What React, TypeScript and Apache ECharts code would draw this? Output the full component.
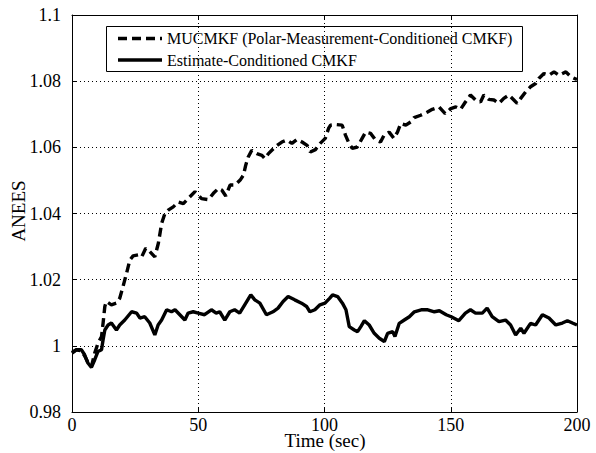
import React, { useEffect, useRef } from "react";
import * as echarts from "echarts";

const seriesNames = [
  "MUCMKF (Polar-Measurement-Conditioned CMKF)",
  "Estimate-Conditioned CMKF",
];
const xName = "Time (sec)";
const yName = "ANEES";

const xTicks = [0, 50, 100, 150, 200];
const yTicks = [0.98, 1, 1.02, 1.04, 1.06, 1.08, 1.1];

const dashT = [
  0, 1.7, 3.7, 5, 6.3, 7.7, 9, 10.3, 11.7, 12.3,
  13, 13.6, 15.6, 17.6, 18.9, 20.2, 21.6, 22.9, 24.2, 26.2,
  27.6, 29.2, 30.8, 32.8, 34.2, 35.5, 36.8, 38.1, 40.1, 42.1,
  44.1, 46, 48.7, 50, 51.3, 54, 56, 58, 59.3, 60.9,
  62.6, 64.6, 66.6, 67.9, 68.8, 69.8, 71.2, 73.2, 75.2, 76.4,
  77.8, 80.4, 83.1, 85.1, 87.1, 89.1, 91.1, 93.1, 94.4, 96.4,
  98.3, 100.3, 101.6, 102.4, 104.4, 107, 108.3, 109.7, 111, 113,
  114.9, 116.3, 118.3, 120.2, 122.2, 123.6, 125.6, 127.5, 128.9, 130.2,
  132.2, 134.2, 135.5, 138.1, 140.8, 142.7, 145.4, 147.8, 150, 152,
  153.9, 155.8, 157.8, 159.8, 161.8, 163.1, 165.1, 167.1, 169.1, 171,
  173, 175, 176.3, 177.7, 179.7, 181.6, 183.6, 184.9, 186.9, 188.9,
  190.9, 192.9, 195.6, 197.6, 200,
];
const dashV = [
  0.998, 0.9988, 0.9985, 0.997, 0.995, 0.9938, 0.9978, 1.0008, 1.0028, 1.0068,
  1.0119, 1.0134, 1.0124, 1.0129, 1.0144, 1.0179, 1.0219, 1.0259, 1.0272, 1.0275,
  1.0269, 1.0295, 1.0285, 1.0269, 1.031, 1.037, 1.04, 1.041, 1.042, 1.0435,
  1.043, 1.0445, 1.0466, 1.0456, 1.0445, 1.0442, 1.0461, 1.0476, 1.0471, 1.0453,
  1.0486, 1.0486, 1.0501, 1.0516, 1.0546, 1.0571, 1.0591, 1.0581, 1.0576, 1.0566,
  1.0581, 1.0601, 1.0616, 1.0622, 1.0612, 1.0624, 1.0616, 1.0606, 1.0586, 1.0593,
  1.0612, 1.0627, 1.0657, 1.0667, 1.0669, 1.0667, 1.0637, 1.0612, 1.0597, 1.0601,
  1.0627, 1.0646, 1.0642, 1.0622, 1.0616, 1.0637, 1.0646, 1.0627, 1.0646, 1.0672,
  1.0667, 1.0677, 1.069, 1.0697, 1.0707, 1.0715, 1.0722, 1.0702, 1.0717, 1.0722,
  1.0715, 1.0737, 1.0758, 1.0743, 1.0737, 1.0758, 1.0745, 1.0743, 1.0733, 1.0748,
  1.0758, 1.0743, 1.0733, 1.0748, 1.0768, 1.0783, 1.0793, 1.0808, 1.0823, 1.0818,
  1.0828, 1.0818, 1.0828, 1.0813, 1.0805,
];

const solidT = [
  0, 1.7, 3.7, 5, 6.3, 7.7, 9, 10.3, 11.7, 12.3,
  13, 14.3, 15.6, 17.6, 18.9, 20.9, 23.6, 25.6, 26.9, 28.8,
  30.8, 32.8, 34.1, 35.5, 37.5, 39.4, 40.8, 42.7, 44.7, 46,
  48, 50, 52.5, 55.2, 57.1, 58.5, 60.5, 62.5, 64.4, 66.4,
  68.4, 70.8, 72.4, 74.4, 77, 79.6, 81.6, 83.6, 85.6, 88.2,
  90.9, 92.9, 94.2, 96.2, 98.2, 100.2, 102.1, 103.2, 105.2, 107.1,
  108.5, 109.8, 111.8, 113.1, 114.4, 115.8, 117.7, 119.7, 121.7, 123.7,
  125, 127, 127.9, 129.6, 131.6, 133.6, 135.6, 138.3, 140.9, 143.5,
  145.5, 148.2, 150.2, 153.2, 155.8, 157.8, 159.8, 162.5, 164.4, 166.4,
  169.1, 171.7, 173.7, 175.7, 177.7, 179, 181.6, 183.6, 186.3, 188.9,
  191.6, 194.2, 196.2, 198.2, 200,
];
const solidV = [
  0.9978, 0.9988, 0.9988, 0.9973, 0.9948, 0.9935, 0.9958, 0.9983, 0.9988, 1.0018,
  1.0048, 1.0063, 1.0069, 1.0048, 1.0063, 1.0078, 1.0103, 1.0099, 1.0084, 1.0088,
  1.0069, 1.0033, 1.0063, 1.0078, 1.0109, 1.0103, 1.0109, 1.0094, 1.0078, 1.0099,
  1.0103, 1.0099, 1.0094, 1.0109, 1.0099, 1.0103, 1.0078, 1.0103, 1.0109, 1.0099,
  1.0124, 1.0154, 1.0139, 1.0129, 1.0094, 1.0103, 1.0114, 1.0134, 1.0149, 1.0139,
  1.0129, 1.0119, 1.0103, 1.0109, 1.0124, 1.0129, 1.0144, 1.0154, 1.0149, 1.0129,
  1.0109, 1.0058, 1.0048, 1.0043, 1.0058, 1.0076, 1.0063, 1.0038, 1.0023, 1.0013,
  1.0038, 1.0043, 1.0028, 1.0068, 1.0078, 1.0088, 1.0103, 1.0109, 1.0109, 1.0103,
  1.0106, 1.0094, 1.0088, 1.0076, 1.0099, 1.0109, 1.0099, 1.0099, 1.0114, 1.0088,
  1.0073, 1.0078, 1.0063, 1.0033, 1.0053, 1.0038, 1.0068, 1.0063, 1.0094, 1.0084,
  1.0063, 1.0069, 1.0076, 1.0069, 1.0063,
];

const FONT = "Liberation Serif";
const DASH = [9, 5];

function zip(t: number[], v: number[]) {
  const n = Math.min(t.length, v.length);
  const out: number[][] = [];
  for (let i = 0; i < n; i++) out.push([t[i], v[i]]);
  return out;
}

export default function App() {
  const ref = useRef<HTMLDivElement>(null);
  useEffect(() => {
    const chart = echarts.init(ref.current!, null, { renderer: "svg" });
    const axisLine = { show: true, onZero: false, lineStyle: { color: "#000", width: 1 } };
    const tick = { show: true, inside: true, length: 5, lineStyle: { color: "#000", width: 1 } };
    const grid = { show: true, lineStyle: { color: "#000", width: 1, type: [1, 3] as any } };
    const tickStyle = { fontFamily: FONT, fontSize: 18, color: "#000" };
    const xBase = { type: "value" as const, min: xTicks[0], max: xTicks[xTicks.length - 1], interval: 50 };
    const yBase = { type: "value" as const, min: yTicks[0], max: yTicks[yTicks.length - 1], interval: 0.02 };
    const legendText = (text: string, y: number) => ({
      type: "text",
      x: 167,
      y,
      style: {
        text,
        fontFamily: FONT,
        fontSize: 16,
        fill: "#000",
        verticalAlign: "middle",
        align: "left",
      },
    });
    const option: any = {
      animation: false,
      backgroundColor: "#fff",
      textStyle: { fontFamily: FONT },
      grid: {
        left: 72,
        right: 19,
        top: 15,
        bottom: 41,
        containLabel: false,
        outerBoundsMode: "none",
      },
      graphic: [
        {
          type: "text",
          x: 325,
          y: 440,
          style: {
            text: xName,
            fontFamily: FONT,
            fontSize: 19,
            fill: "#000",
            align: "center",
            verticalAlign: "middle",
          },
        },
        {
          type: "text",
          x: 18,
          y: 211,
          rotation: Math.PI / 2,
          style: {
            text: yName,
            fontFamily: FONT,
            fontSize: 19,
            fill: "#000",
            align: "center",
            verticalAlign: "middle",
          },
        },
        {
          type: "group",
          z: 100,
          children: [
            {
              type: "rect",
              shape: { x: 106.5, y: 26.5, width: 416, height: 45 },
              style: { fill: "#fff", stroke: "#000", lineWidth: 1 },
            },
            {
              type: "line",
              shape: { x1: 118, y1: 38.5, x2: 162, y2: 38.5 },
              style: { stroke: "#000", lineWidth: 3.4, lineDash: DASH },
            },
            {
              type: "line",
              shape: { x1: 118, y1: 60, x2: 162, y2: 60 },
              style: { stroke: "#000", lineWidth: 3.4 },
            },
            legendText(seriesNames[0], 38.5),
            legendText(seriesNames[1], 60),
          ],
        },
      ],
      xAxis: [
        {
          ...xBase,
          position: "bottom",
          axisLine,
          axisTick: tick,
          axisLabel: { ...tickStyle, margin: 4 },
          splitLine: grid,
        },
        {
          ...xBase,
          position: "top",
          axisLine,
          axisTick: tick,
          axisLabel: { show: false },
          splitLine: { show: false },
        },
      ],
      yAxis: [
        {
          ...yBase,
          position: "left",
          axisLine,
          axisTick: tick,
          axisLabel: {
            ...tickStyle,
            margin: 11,
            formatter: (v: number) => String(parseFloat(v.toFixed(2))),
          },
          splitLine: grid,
        },
        {
          ...yBase,
          position: "right",
          axisLine,
          axisTick: tick,
          axisLabel: { show: false },
          splitLine: { show: false },
        },
      ],
      series: [
        {
          name: seriesNames[0],
          type: "line",
          data: zip(dashT, dashV),
          symbol: "none",
          lineStyle: { color: "#000", width: 3.4, type: DASH },
          itemStyle: { color: "#000" },
          z: 3,
        },
        {
          name: seriesNames[1],
          type: "line",
          data: zip(solidT, solidV),
          symbol: "none",
          lineStyle: { color: "#000", width: 3.4, type: "solid" },
          itemStyle: { color: "#000" },
          z: 2,
        },
      ],
    };
    chart.setOption(option);
    return () => chart.dispose();
  }, []);
  return (
    <div
      ref={ref}
      style={{ position: "fixed", left: 0, top: 0, width: 596, height: 453, background: "#fff" }}
    />
  );
}
